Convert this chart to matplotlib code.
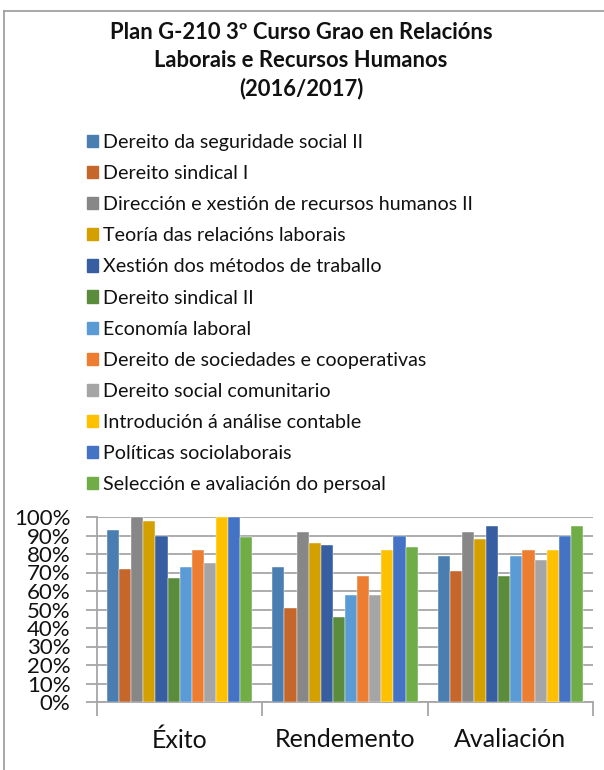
import matplotlib
matplotlib.use("Agg")
import matplotlib.pyplot as plt
import matplotlib.patches as mpatches
from matplotlib.lines import Line2D
from matplotlib.ticker import PercentFormatter
import numpy as np

plt.rcParams["font.family"] = ["Lato", "DejaVu Sans"]

TITLE = "Plan G-210 3º Curso Grao en Relacións\nLaborais e Recursos Humanos\n(2016/2017)"

categories = ["Éxito", "Rendemento", "Avaliación"]

subjects = [
    "Dereito da seguridade social II",
    "Dereito sindical I",
    "Dirección e xestión de recursos humanos II",
    "Teoría das relacións laborais",
    "Xestión dos métodos de traballo",
    "Dereito sindical II",
    "Economía laboral",
    "Dereito de sociedades e cooperativas",
    "Dereito social comunitario",
    "Introdución á análise contable",
    "Políticas sociolaborais",
    "Selección e avaliación do persoal",
]

# values per subject: [Éxito, Rendemento, Avaliación]
values = [
    [0.93, 0.73, 0.79],
    [0.72, 0.51, 0.71],
    [1.00, 0.92, 0.92],
    [0.98, 0.86, 0.88],
    [0.90, 0.85, 0.95],
    [0.67, 0.46, 0.68],
    [0.73, 0.58, 0.79],
    [0.82, 0.68, 0.82],
    [0.75, 0.58, 0.77],
    [1.00, 0.82, 0.82],
    [1.00, 0.90, 0.90],
    [0.89, 0.84, 0.95],
]

colors = [
    "#4a7eb1", "#c5662a", "#878787", "#d4a000", "#375ea1", "#5b8c3b",
    "#5b9bd5", "#ed7d31", "#a5a5a5", "#ffc000", "#4472c4", "#70ad47",
]

W, H = 604, 770
fig = plt.figure(figsize=(W / 100, H / 100), dpi=100)
fig.patch.set_facecolor("white")

# outer chart frame (top and left edges visible)
frame_c = "#9a9a9a"
fig.add_artist(Line2D([4 / W, 1], [1 - 11 / H, 1 - 11 / H], color=frame_c,
                      lw=1.2, transform=fig.transFigure))
fig.add_artist(Line2D([4 / W, 4 / W], [0, 1 - 11 / H], color=frame_c,
                      lw=1.2, transform=fig.transFigure))

fig.text(301 / W, 1 - 22 / H, TITLE, ha="center", va="top", fontsize=15.8,
         fontweight="bold", linespacing=1.40, color="#111111")

ax = fig.add_axes([97 / W, 68 / H, 496 / W, 185 / H])

n = len(subjects)
bw = 0.88 / n
x = np.arange(len(categories))
for i, (name, vals, c) in enumerate(zip(subjects, values, colors)):
    ax.bar(x - 0.44 + bw * (i + 0.5), vals, width=bw, color=c,
           edgecolor="white", linewidth=0.3, label=name, zorder=3)

ax.set_xlim(-0.5, 2.5)
ax.set_ylim(0, 1.0)
ax.set_yticks(np.arange(0, 1.01, 0.1))
ax.yaxis.set_major_formatter(PercentFormatter(1.0, decimals=0))
ax.grid(axis="y", color="#a6a6a6", lw=1.3, zorder=0)

grid_c = "#a6a6a6"
for s in ["top", "right"]:
    ax.spines[s].set_visible(False)
for s in ["left", "bottom"]:
    ax.spines[s].set_color(grid_c)
    ax.spines[s].set_linewidth(1.3)

ax.tick_params(axis="y", length=8, width=1.3, color=grid_c, pad=11,
               labelsize=16, labelcolor="#111111")
ax.set_xticks(x)
ax.set_xticklabels(categories)
ax.tick_params(axis="x", length=0, pad=19, labelsize=18, labelcolor="#111111")
ax.set_xticks([-0.5, 0.5, 1.5, 2.5], minor=True)
ax.tick_params(axis="x", which="minor", length=10, width=1.3, color=grid_c)

handles = [mpatches.Patch(color=c, label=s) for s, c in zip(subjects, colors)]
fig.legend(handles=handles, loc="upper left",
           bbox_to_anchor=(87 / W, 1 - 134 / H), frameon=False,
           fontsize=14.1, handlelength=0.58, handleheight=0.58,
           handletextpad=0.25, labelspacing=0.72, borderpad=0,
           borderaxespad=0, labelcolor="#111111")

fig.savefig("out.png", dpi=100)
